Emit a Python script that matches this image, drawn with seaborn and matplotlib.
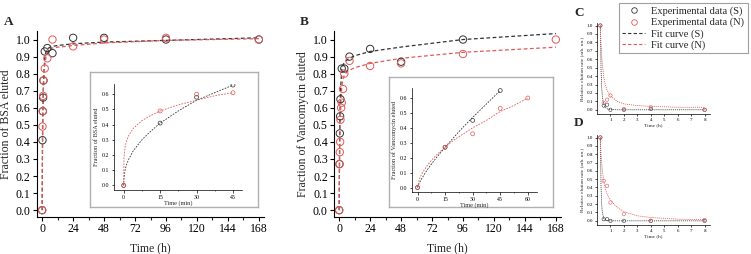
import matplotlib
matplotlib.use("Agg")
import matplotlib.pyplot as plt
import seaborn as sns
import numpy as np
from matplotlib.lines import Line2D
from matplotlib.ticker import MultipleLocator

# ---------------- data ----------------
# Panel A (BSA), time in h
a_t = [0, 0.25, 0.5, 0.75, 1, 2, 4, 8, 24, 48, 96, 168]
a_S = [0, 0.41, 0.58, 0.66, 0.76, 0.93, 0.95, 0.92, 1.01, 1.01, 1.00, 1.00]
a_N = [0, 0.49, 0.58, 0.67, 0.76, 0.83, 0.89, 1.00, 0.96, 1.00, 1.01, 1.00]
fitA_t = [0, 0.25, 0.5, 1, 2, 3, 4, 6, 8, 12, 24, 48, 96, 168]
fitA_S = [0, 0.35, 0.55, 0.75, 0.89, 0.93, 0.945, 0.955, 0.96, 0.965, 0.975, 0.985, 0.995, 1.01]
fitA_N = [0, 0.45, 0.58, 0.72, 0.85, 0.90, 0.93, 0.945, 0.95, 0.955, 0.965, 0.98, 0.995, 1.005]

# Inset A, time in min
ia_t = [0, 15, 30, 45]
ia_S = [0, 0.41, 0.58, 0.66]
ia_N = [0, 0.49, 0.60, 0.61]
fitIA_t = [0, 0.1, 0.5, 1, 2, 4, 7.5, 10, 15, 22.5, 30, 37.5, 45]
fitIA_S = [0, 0.048, 0.095, 0.13, 0.17, 0.23, 0.30, 0.34, 0.41, 0.49, 0.56, 0.61, 0.66]
fitIA_N = [0, 0.18, 0.248, 0.285, 0.327, 0.376, 0.426, 0.45, 0.49, 0.53, 0.56, 0.59, 0.61]

# Panel B (Vancomycin), time in h
b_tS = [0, 0.25, 0.5, 0.75, 1, 2, 4, 8, 24, 48, 96]
b_S = [0, 0.27, 0.45, 0.55, 0.65, 0.83, 0.83, 0.90, 0.945, 0.87, 1.00]
b_tN = [0, 0.25, 0.5, 0.75, 1, 1.5, 2, 3, 4, 8, 24, 48, 96, 168]
b_N = [0, 0.27, 0.34, 0.40, 0.53, 0.60, 0.63, 0.71, 0.80, 0.875, 0.845, 0.86, 0.915, 1.00]
fitB_t = [0, 0.25, 0.5, 1, 2, 3, 4, 6, 8, 12, 24, 48, 96, 168]
fitB_S = [0, 0.30, 0.50, 0.70, 0.82, 0.85, 0.865, 0.88, 0.89, 0.905, 0.93, 0.956, 1.00, 1.035]
fitB_N = [0, 0.25, 0.40, 0.57, 0.72, 0.77, 0.79, 0.81, 0.82, 0.835, 0.86, 0.89, 0.925, 0.955]

# Inset B, time in min
ib_tS = [0, 15, 30, 45]
ib_S = [0, 0.27, 0.45, 0.65]
ib_tN = [0, 15, 30, 45, 60]
ib_N = [0, 0.27, 0.36, 0.53, 0.60]
fitIBS_t = [0, 1, 2.5, 5, 7.5, 10, 15, 20, 25, 30, 37.5, 45]
fitIB_S = [0, 0.031, 0.064, 0.113, 0.156, 0.196, 0.27, 0.34, 0.407, 0.47, 0.56, 0.65]
fitIBN_t = [0, 1, 2.5, 5, 7.5, 10, 15, 20, 25, 30, 37.5, 45, 52.5, 60]
fitIB_N = [0, 0.057, 0.096, 0.143, 0.181, 0.214, 0.27, 0.32, 0.36, 0.40, 0.45, 0.51, 0.55, 0.60]

# Panels C and D (relative elution rate), time in h
cd_t = [0.25, 0.5, 0.75, 1, 2, 4, 8]
c_S = [1.0, 0.05, 0.06, 0.0, 0.0, 0.01, 0.0]
c_N = [1.0, 0.08, 0.12, 0.17, 0.01, 0.03, 0.0]
d_S = [1.0, 0.02, 0.02, 0.0, 0.0, 0.0, 0.0]
d_N = [1.0, 0.48, 0.42, 0.22, 0.08, 0.0, 0.01]
fitCD_t = [0.25, 0.3, 0.35, 0.4, 0.5, 0.6, 0.75, 1, 1.5, 2, 3, 4, 6, 8]
fitC_S = [1.0, 0.48, 0.26, 0.15, 0.06, 0.03, 0.012, 0.004, 0, 0, 0, 0, 0, 0]
fitC_N = [1.0, 0.78, 0.63, 0.54, 0.39, 0.31, 0.23, 0.165, 0.10, 0.07, 0.05, 0.04, 0.03, 0.03]
fitD_S = [1.0, 0.40, 0.19, 0.10, 0.03, 0.013, 0.004, 0, 0, 0, 0, 0, 0, 0]
fitD_N = [1.0, 0.82, 0.69, 0.60, 0.48, 0.40, 0.32, 0.25, 0.16, 0.11, 0.06, 0.04, 0.02, 0.015]

# ---------------- style ----------------
sns.set_theme(style="ticks")
plt.rcParams["font.family"] = ["Liberation Serif", "DejaVu Serif"]
plt.rcParams["axes.linewidth"] = 0.8

COL_S = "#333333"
COL_N = "#e05a5a"
W, H = 751, 254

fig = plt.figure(figsize=(W / 100, H / 100), dpi=100)


def rect(l, t, r, b):
    return [l / W, 1 - b / H, (r - l) / W, (b - t) / H]


def style_ax(ax, fs, major_len=3, minor_len=1.8, lw=0.8):
    sns.despine(ax=ax)
    ax.tick_params(axis="both", which="major", direction="out", length=major_len,
                   width=lw, labelsize=fs, pad=1.5, colors="black")
    ax.tick_params(axis="both", which="minor", direction="out", length=minor_len, width=lw)
    for s in ["left", "bottom"]:
        ax.spines[s].set_linewidth(lw)
        ax.spines[s].set_color("black")
    ax.set_facecolor("white")


def pts(ax, x, y, c, s, lw):
    sns.scatterplot(x=x, y=y, ax=ax, s=s, facecolor="none", edgecolor=c,
                    linewidth=lw, marker="o", zorder=3, legend=False)


def fit(ax, x, y, c, lw, dashes=(3, 2)):
    sns.lineplot(x=x, y=y, ax=ax, color=c, linewidth=lw, sort=False,
                 estimator=None, legend=False, zorder=2, dashes=False)
    ax.lines[-1].set_dashes(dashes)


def main_panel(rectpx, tS, S, tN, N, ft, fS, fN, ylabel, letter, letter_xy):
    ax = fig.add_axes(rect(*rectpx))
    fit(ax, ft, fS, COL_S, 0.9)
    fit(ax, ft, fN, COL_N, 0.9)
    pts(ax, tS, S, COL_S, 28, 0.7)
    pts(ax, tN, N, COL_N, 28, 0.7)
    ax.set_xlim(-4, 172)
    ax.set_ylim(-0.04, 1.05)
    ax.set_xticks(np.arange(0, 169, 24))
    ax.xaxis.set_minor_locator(MultipleLocator(12))
    ax.set_yticks(np.round(np.arange(0, 1.01, 0.1), 1))
    ax.set_yticklabels([f"{v:.1f}" for v in np.arange(0, 1.01, 0.1)])
    style_ax(ax, 8.5)
    ax.set_xlabel("Time (h)", fontsize=8.5, labelpad=5)
    ax.set_ylabel(ylabel, fontsize=8.5, labelpad=3)
    fig.text(letter_xy[0] / W, 1 - letter_xy[1] / H, letter, fontsize=9.5,
             fontweight="bold", ha="left", va="center")
    return ax


def inset(boxpx, axpx, tS, S, tN, N, fSt, fS, fNt, fN, ylabel, xlim, xticks):
    box = fig.add_axes(rect(*boxpx))
    box.set_xticks([])
    box.set_yticks([])
    for s in box.spines.values():
        s.set_color("#b0b0b0")
        s.set_linewidth(1.0)
    box.set_facecolor("white")
    ax = fig.add_axes(rect(*axpx))
    fit(ax, fSt, fS, COL_S, 0.6, (2, 1.5))
    fit(ax, fNt, fN, COL_N, 0.6, (2, 1.5))
    pts(ax, tS, S, COL_S, 8, 0.5)
    pts(ax, tN, N, COL_N, 8, 0.5)
    ax.set_xlim(*xlim)
    ax.set_ylim(-0.03, 0.667)
    ax.set_xticks(xticks)
    ax.xaxis.set_minor_locator(MultipleLocator(7.5))
    ax.set_yticks(np.round(np.arange(0, 0.61, 0.1), 1))
    ax.set_yticklabels([f"{v:.1f}" for v in np.arange(0, 0.61, 0.1)])
    style_ax(ax, 4.2, major_len=1.8, minor_len=1.0, lw=0.5)
    ax.set_xlabel("Time (min)", fontsize=4.5, labelpad=0.5)
    ax.set_ylabel(ylabel, fontsize=4.5, labelpad=2)
    return ax


def rate_panel(rectpx, S, N, fS, fN, letter, letter_xy):
    ax = fig.add_axes(rect(*rectpx))
    fit(ax, fitCD_t, fS, COL_S, 0.55, (1.5, 1.2))
    fit(ax, fitCD_t, fN, COL_N, 0.55, (1.5, 1.2))
    pts(ax, cd_t, S, COL_S, 6, 0.4)
    pts(ax, cd_t, N, COL_N, 6, 0.4)
    ax.set_xlim(0, 8.4)
    ax.set_ylim(-0.05, 1.03)
    ax.set_xticks(range(1, 9))
    ax.set_yticks(np.round(np.arange(0, 1.01, 0.1), 1))
    ax.set_yticklabels([f"{v:.1f}" for v in np.arange(0, 1.01, 0.1)])
    style_ax(ax, 3.6, major_len=1.5, minor_len=1.0, lw=0.5)
    ax.set_xlabel("Time (h)", fontsize=3.8, labelpad=1)
    ax.set_ylabel("Relative elution rate (arb. un.)", fontsize=3.8, labelpad=1.5)
    fig.text(letter_xy[0] / W, 1 - letter_xy[1] / H, letter, fontsize=9.5,
             fontweight="bold", ha="left", va="center")
    return ax


main_panel((37, 31, 264, 217), a_t, a_S, a_t, a_N, fitA_t, fitA_S, fitA_N,
           "Fraction of BSA eluted", "A", (4, 22))
inset((90, 72, 258, 207), (114, 84, 242, 190), ia_t, ia_S, ia_t, ia_N,
      fitIA_t, fitIA_S, fitIA_t, fitIA_N, "Fraction of BSA eluted", (-4, 48.7), [0, 15, 30, 45])

main_panel((334, 31, 561, 217), b_tS, b_S, b_tN, b_N, fitB_t, fitB_S, fitB_N,
           "Fraction of Vancomycin eluted", "B", (300, 22))
inset((389, 77, 553, 207), (412, 88, 537, 192), ib_tS, ib_S, ib_tN, ib_N,
      fitIBS_t, fitIB_S, fitIBN_t, fitIB_N, "Fraction of Vancomycin eluted", (-3, 65), [0, 15, 30, 45, 60])

rate_panel((597, 23, 710, 114), c_S, c_N, fitC_S, fitC_N, "C", (574, 13))
rate_panel((597, 135, 710, 225), d_S, d_N, fitD_S, fitD_N, "D", (574, 123))

handles = [
    Line2D([], [], linestyle="none", marker="o", markerfacecolor="none",
           markeredgecolor=COL_S, markersize=4, markeredgewidth=0.6),
    Line2D([], [], linestyle="none", marker="o", markerfacecolor="none",
           markeredgecolor=COL_N, markersize=4, markeredgewidth=0.6),
    Line2D([], [], color=COL_S, linestyle=(0, (3, 2)), linewidth=0.8),
    Line2D([], [], color=COL_N, linestyle=(0, (3, 2)), linewidth=0.8),
]
labels = ["Experimental data (S)", "Experimental data (N)", "Fit curve (S)", "Fit curve (N)"]
leg = fig.legend(handles, labels, loc="upper right", bbox_to_anchor=(748 / W, 1 - 3 / H),
                 frameon=True, fancybox=False, fontsize=7.5, handlelength=2.2,
                 handletextpad=0.6, borderpad=0.35, labelspacing=0.15, borderaxespad=0)
leg.get_frame().set_edgecolor("#888888")
leg.get_frame().set_linewidth(0.8)

fig.savefig("out.png", dpi=100, facecolor="white")
